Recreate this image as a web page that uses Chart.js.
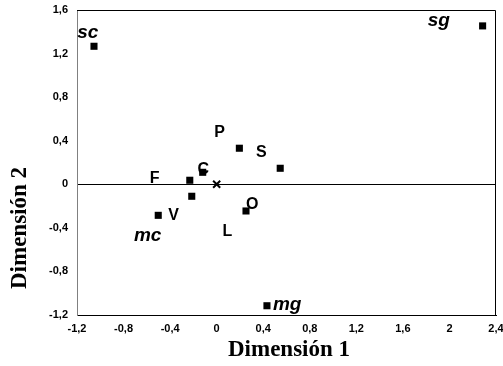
<!DOCTYPE html>
<html>
<head>
<meta charset="utf-8">
<script src="https://cdn.jsdelivr.net/npm/chart.js@4/dist/chart.umd.min.js"></script>
<style>
  html, body { margin: 0; padding: 0; background: #fff; }
  #wrap { width: 503px; height: 366px; }
</style>
</head>
<body>
<div id="wrap"><canvas id="plot" width="503" height="366"></canvas></div>
<script>
// ── Data ─────────────────────────────────────────────────

// positions of the items on the two dimensions
const pointsX = [-1.054, 2.285, 0.195, 0.546, -0.231, -0.12, -0.214, -0.502, 0.252, 0.432];
const pointsY = [1.267, 1.454, 0.331, 0.147, 0.037, 0.11, -0.110, -0.285, -0.245, -1.115];

// centroid marker
const originX = [0];
const originY = [0];

// text annotations placed in data units
const labelText = ['sc', 'sg', 'mc', 'mg', 'P', 'S', 'F', 'C', 'O', 'V', 'L'];
const labelX = [-1.108, 1.909, -0.593, 0.606, 0.025, 0.383, -0.534, -0.114, 0.306, -0.371, 0.092];
const labelY = [1.389, 1.50, -0.472, -1.106, 0.471, 0.287, 0.049, 0.136, -0.19, -0.288, -0.438];
const labelItalic = [true, true, true, true, false, false, false, false, false, false, false];

const xTicks = [-1.2, -0.8, -0.4, 0, 0.4, 0.8, 1.2, 1.6, 2, 2.4];
const yTicks = [-1.2, -0.8, -0.4, 0, 0.4, 0.8, 1.2, 1.6];

const xTitle = 'Dimensión 1';
const yTitle = 'Dimensión 2';

// ── Helpers ──────────────────────────────────────────────

const fmt = v => String(Math.round(v * 10) / 10).replace('.', ',');

const labelsPlugin = {
    id: 'pointLabels',
    afterDatasetsDraw(chart) {
        const { ctx, scales: { x, y } } = chart;
        ctx.save();
        ctx.fillStyle = '#000';
        ctx.textAlign = 'center';
        ctx.textBaseline = 'middle';
        labelText.forEach((t, i) => {
            ctx.font = labelItalic[i]
                ? 'italic bold 19px "Liberation Sans", Arial, sans-serif'
                : 'bold 16px "Liberation Sans", Arial, sans-serif';
            ctx.fillText(t, x.getPixelForValue(labelX[i]), y.getPixelForValue(labelY[i]));
        });
        ctx.restore();
    }
};

const framePlugin = {
    id: 'frame',
    afterDraw(chart) {
        const { ctx, chartArea: a } = chart;
        ctx.save();
        ctx.lineWidth = 1;
        ctx.strokeStyle = '#000';
        ctx.beginPath();
        ctx.moveTo(a.left, a.top + 0.5);
        ctx.lineTo(a.right - 0.5, a.top + 0.5);
        ctx.lineTo(a.right - 0.5, a.bottom);
        ctx.stroke();

        // axis titles
        ctx.fillStyle = '#000';
        ctx.textAlign = 'center';
        ctx.textBaseline = 'middle';
        ctx.font = 'bold 23px "Liberation Serif", "Times New Roman", serif';
        ctx.fillText(xTitle, 289, 350);
        ctx.translate(20, 228);
        ctx.rotate(-Math.PI / 2);
        ctx.fillText(yTitle, 0, 0);
        ctx.restore();
    }
};

// ── Chart ────────────────────────────────────────────────

const tickFont = { family: '"Liberation Sans", Arial, sans-serif', size: 11, weight: 'bold' };

new Chart(document.getElementById('plot'), {
    type: 'scatter',
    data: {
        datasets: [
            {
                data: pointsX.map((v, i) => ({ x: v, y: pointsY[i] })),
                pointStyle: 'rect',
                pointRadius: 5,
                backgroundColor: '#000',
                borderWidth: 0
            },
            {
                data: originX.map((v, i) => ({ x: v, y: originY[i] })),
                pointStyle: 'crossRot',
                pointRadius: 5,
                borderColor: '#000',
                borderWidth: 2
            }
        ]
    },
    options: {
        responsive: false,
        animation: false,
        layout: { padding: { top: 10, right: 6, left: 0, bottom: 0 } },
        plugins: {
            legend: { display: false },
            tooltip: { enabled: false }
        },
        scales: {
            x: {
                min: -1.2,
                max: 2.4,
                afterBuildTicks: s => { s.ticks = xTicks.map(v => ({ value: v })); },
                afterFit: s => {
                    s.height = 51;
                    s.paddingLeft = 0;
                    s.paddingRight = 0;
                },
                grid: { display: false, drawTicks: false },
                border: { color: '#000', width: 1 },
                ticks: {
                    color: '#000',
                    font: tickFont,
                    padding: 7,
                    maxRotation: 0,
                    autoSkip: false,
                    callback: v => fmt(v)
                }
            },
            y: {
                min: -1.2,
                max: 1.6,
                afterBuildTicks: s => { s.ticks = yTicks.map(v => ({ value: v })); },
                afterFit: s => {
                    s.width = 77;
                    s.paddingTop = 0;
                    s.paddingBottom = 0;
                },
                grid: {
                    drawTicks: false,
                    color: c => (c.tick && c.tick.value === 0 ? '#000' : 'rgba(0,0,0,0)'),
                    lineWidth: 1
                },
                border: { color: '#808080', width: 1 },
                ticks: {
                    color: '#000',
                    font: tickFont,
                    padding: 9,
                    autoSkip: false,
                    callback: v => fmt(v)
                }
            }
        }
    },
    plugins: [labelsPlugin, framePlugin]
});
</script>
</body>
</html>
